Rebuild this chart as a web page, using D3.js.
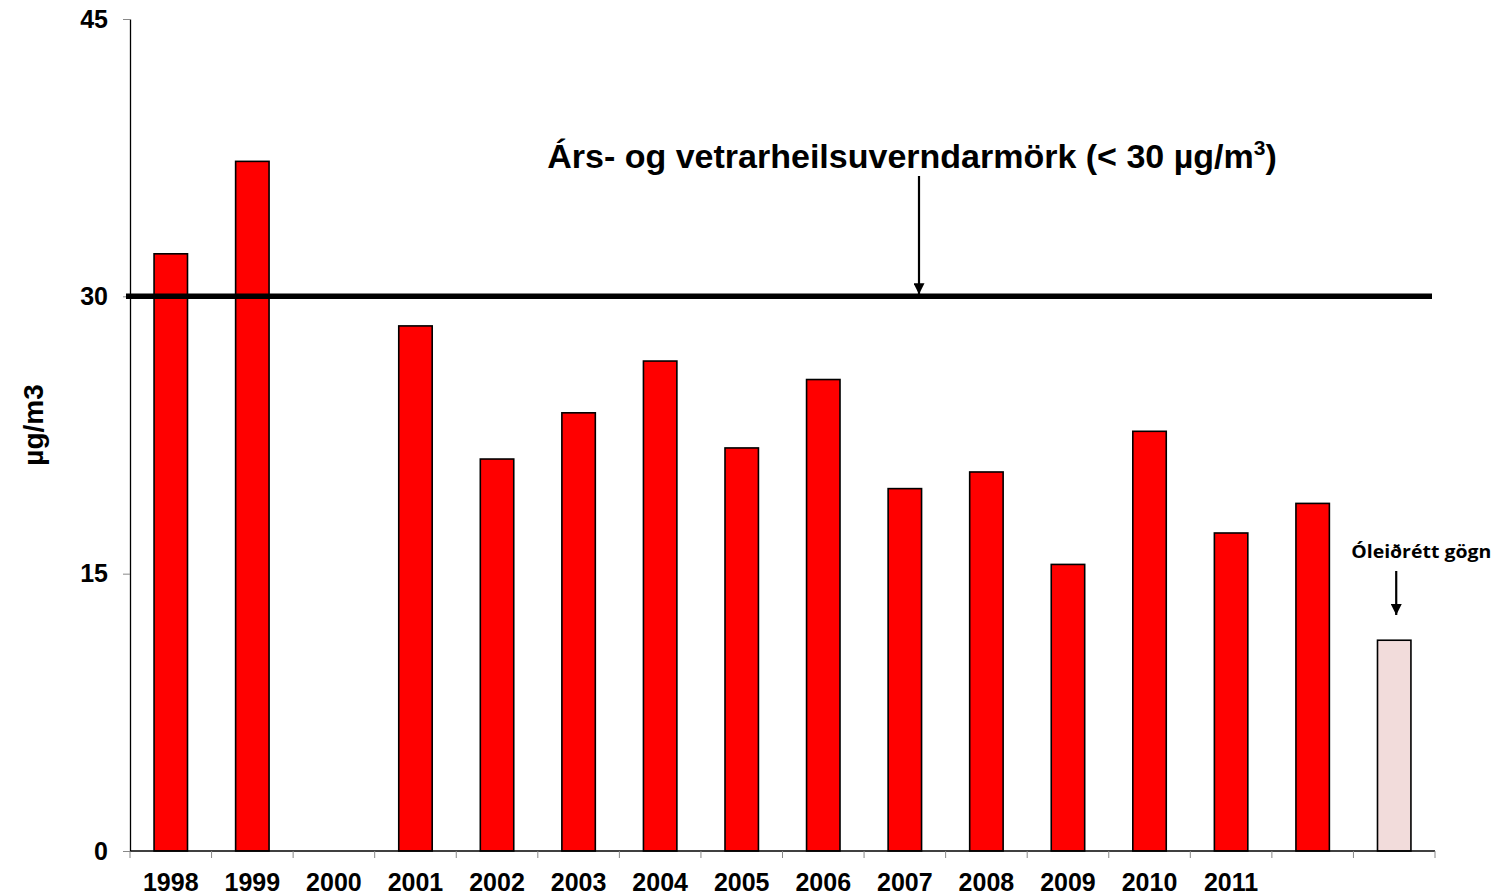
<!DOCTYPE html>
<html>
<head>
<meta charset="utf-8">
<script src="https://cdn.jsdelivr.net/npm/d3@7"></script>
<style>
  body { margin: 0; background: #fff; }
  text { font-family: "Liberation Sans", Arial, sans-serif; }
</style>
</head>
<body>
<div id="container"></div>
<script>
// data
const years = ["1998", "1999", "2000", "2001", "2002", "2003", "2004", "2005",
  "2006", "2007", "2008", "2009", "2010", "2011", "2012", "2013"];
const yearLabels = ["1998", "1999", "2000", "2001", "2002", "2003", "2004", "2005",
  "2006", "2007", "2008", "2009", "2010", "2011", "", ""];
const values = [32.3, 37.3, null, 28.4, 21.2, 23.7, 26.5, 21.8,
  25.5, 19.6, 20.5, 15.5, 22.7, 17.2, 18.8, 11.4];
const uncorrected = [false, false, false, false, false, false, false, false,
  false, false, false, false, false, false, false, true];
const yTicks = [0, 15, 30, 45];
const limitValue = 30;

const width = 1499;
const height = 895;
const margin = {top: 19, right: 64, bottom: 44, left: 130};

const svg = d3.select("#container")
  .append("svg")
  .attr("width", width)
  .attr("height", height);

const x = d3.scaleBand()
  .domain(years)
  .range([margin.left, width - margin.right])
  .padding(0);

const y = d3.scaleLinear()
  .domain([0, 45])
  .range([height - margin.bottom, margin.top]);

const barW = x.bandwidth() * 0.41;

// bars
svg.selectAll("rect.bar")
  .data(years.map((d, i) => ({year: d, value: values[i], flag: uncorrected[i]}))
    .filter(d => d.value != null))
  .join("rect")
    .attr("class", "bar")
    .attr("x", d => x(d.year) + x.bandwidth() / 2 - barW / 2)
    .attr("y", d => y(d.value))
    .attr("width", barW)
    .attr("height", d => y(0) - y(d.value))
    .style("fill", d => d.flag ? "#f2dcdb" : "#ff0000")
    .style("stroke", "#000")
    .style("stroke-width", 1.6);

// y axis
const yAxis = svg.append("g")
  .attr("transform", `translate(${margin.left},0)`)
  .call(d3.axisLeft(y).tickValues(yTicks).tickSize(7).tickSizeOuter(0));
yAxis.select(".domain").attr("stroke", "#000").attr("stroke-width", 1.3);
yAxis.selectAll(".tick line").attr("stroke", "#888");
yAxis.selectAll(".tick text")
  .attr("x", -22)
  .style("font-family", "Liberation Sans, Arial, sans-serif")
  .style("font-size", "25px")
  .style("font-weight", "bold")
  .attr("fill", "#000");

// x axis: ticks on band edges
const xAxis = svg.append("g")
  .attr("transform", `translate(0,${y(0)})`);
xAxis.append("line")
  .attr("x1", margin.left).attr("x2", width - margin.right)
  .attr("y1", 0).attr("y2", 0)
  .attr("stroke", "#000").attr("stroke-width", 1.3);
xAxis.selectAll("line.tk")
  .data(years)
  .join("line")
    .attr("class", "tk")
    .attr("x1", d => x(d)).attr("x2", d => x(d))
    .attr("y1", 0).attr("y2", 7)
    .attr("stroke", "#888");
xAxis.append("line")
  .attr("x1", width - margin.right).attr("x2", width - margin.right)
  .attr("y1", 0).attr("y2", 7)
  .attr("stroke", "#888");
xAxis.selectAll("text.lbl")
  .data(years.map((d, i) => ({year: d, label: yearLabels[i]})))
  .join("text")
    .attr("class", "lbl")
    .attr("x", d => x(d.year) + x.bandwidth() / 2)
    .attr("y", 40)
    .attr("text-anchor", "middle")
    .style("font-size", "25px")
    .style("font-weight", "bold")
    .text(d => d.label);

// y label
svg.append("text")
  .attr("transform", "translate(43,425) rotate(-90)")
  .attr("text-anchor", "middle")
  .style("font-size", "28px")
  .style("font-weight", "bold")
  .text("µg/m3");

// limit line
svg.append("line")
  .attr("x1", margin.left - 4).attr("x2", width - margin.right - 3)
  .attr("y1", y(limitValue)).attr("y2", y(limitValue))
  .attr("stroke", "#000")
  .attr("stroke-width", 5.5);

// arrow marker
svg.append("defs").append("marker")
  .attr("id", "arrow")
  .attr("viewBox", "0 0 10 10")
  .attr("refX", 10).attr("refY", 5)
  .attr("markerWidth", 5).attr("markerHeight", 5)
  .attr("markerUnits", "strokeWidth")
  .attr("orient", "auto")
  .append("path")
    .attr("d", "M0,0 L10,5 L0,10 z")
    .attr("fill", "#000");

// annotation for limit
const title = svg.append("text")
  .attr("x", 912)
  .attr("y", 168)
  .attr("text-anchor", "middle")
  .style("font-size", "34px")
  .style("font-weight", "bold");
title.append("tspan").text("Árs- og vetrarheilsuverndarmörk (< 30 µg/m");
title.append("tspan").attr("dy", -13).style("font-size", "21px").text("3");
title.append("tspan").attr("dy", 13).text(")");

svg.append("line")
  .attr("x1", 919).attr("x2", 919)
  .attr("y1", 176).attr("y2", y(limitValue) - 2)
  .attr("stroke", "#000")
  .attr("stroke-width", 2.2)
  .attr("marker-end", "url(#arrow)");

// annotation for uncorrected data
const lastYear = years[years.length - 1];
const lastX = x(lastYear) + x.bandwidth() / 2;
svg.append("text")
  .attr("x", lastX + 27)
  .attr("y", 558)
  .attr("text-anchor", "middle")
  .attr("textLength", 140)
  .attr("lengthAdjust", "spacingAndGlyphs")
  .style("font-family", "Open Sans, Lato, sans-serif")
  .style("font-size", "18px")
  .style("font-weight", "bold")
  .text("Óleiðrétt gögn");

svg.append("line")
  .attr("x1", lastX + 2).attr("x2", lastX + 2)
  .attr("y1", 571).attr("y2", 615)
  .attr("stroke", "#000")
  .attr("stroke-width", 2.2)
  .attr("marker-end", "url(#arrow)");
</script>
</body>
</html>
